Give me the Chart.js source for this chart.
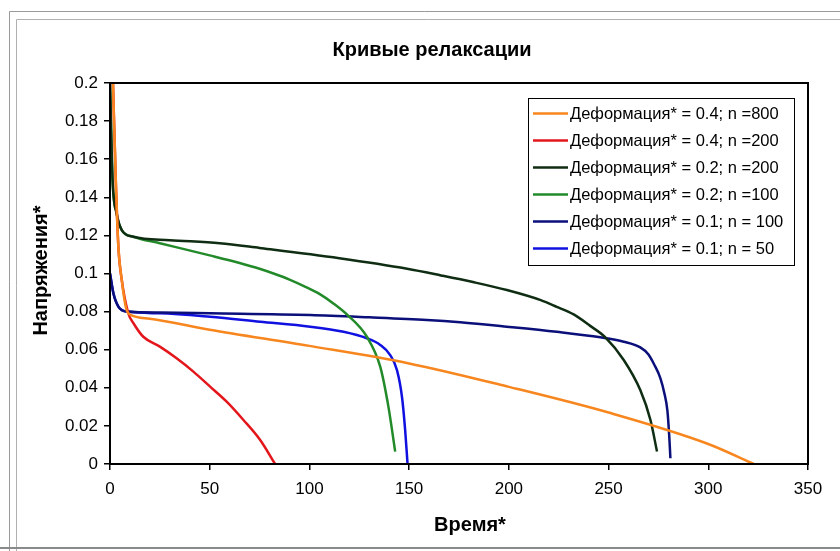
<!DOCTYPE html>
<html>
<head>
<meta charset="utf-8">
<script src="https://cdn.jsdelivr.net/npm/chart.js@4"></script>
<style>
html,body{margin:0;padding:0;background:#fff;}
#wrap{position:relative;width:840px;height:551px;}
</style>
</head>
<body>
<div id="wrap"><canvas id="c" width="840" height="551"></canvas></div>
<script>
// ---- data ----
const chartTitle = "Кривые релаксации";
const xTitle = "Время*";
const yTitle = "Напряжения*";
const seriesLabels = [
  "Деформация* = 0.4; n =800",
  "Деформация* = 0.4; n =200",
  "Деформация* = 0.2; n =200",
  "Деформация* = 0.2; n =100",
  "Деформация* = 0.1; n = 100",
  "Деформация* = 0.1; n = 50"
];
const seriesColors = ["#F7861E", "#E3161B", "#0F2D12", "#238A2A", "#0B0F7A", "#1010E0"];

const e04n800X = [1.5, 2.9, 4.2, 5.9, 8, 10, 20, 50, 100, 150, 200, 250, 300, 322.8];
const e04n800Y = [0.2, 0.149, 0.114, 0.0966, 0.082, 0.0785, 0.0763, 0.0705, 0.0620, 0.0528, 0.0405, 0.0270, 0.0105, 0];

const e04n200X = [1.5, 2.9, 4.2, 5.9, 9.2, 12, 16.7, 25, 33.4, 41.8, 50.2, 58.5, 66.9, 75.3, 82.8];
const e04n200Y = [0.2, 0.149, 0.114, 0.0966, 0.079, 0.0735, 0.0668, 0.0616, 0.0555, 0.0485, 0.0406, 0.0327, 0.0231, 0.0126, 0];

const e02n200X = [0, 1.3, 3.3, 5.9, 11.7, 30, 55, 75, 115, 149, 166, 182, 199, 216, 224, 232.5, 240.8, 248.4, 257.6, 265.9, 271, 274.3];
const e02n200Y = [0.2, 0.149, 0.1316, 0.1228, 0.1193, 0.1175, 0.1159, 0.1134, 0.1080, 0.1025, 0.0990, 0.0955, 0.0913, 0.0860, 0.0825, 0.0785, 0.0725, 0.0665, 0.0546, 0.0388, 0.0231, 0.0065];

const e02n100X = [0, 1.3, 3.3, 5.9, 11.7, 25, 50, 65, 75, 82, 90, 98, 105, 112, 119, 128.8, 135.5, 139.6, 143];
const e02n100Y = [0.2, 0.149, 0.1316, 0.1228, 0.1193, 0.1159, 0.1095, 0.1055, 0.1025, 0.1000, 0.0968, 0.0930, 0.0893, 0.0843, 0.0783, 0.0668, 0.0511, 0.0301, 0.0065];

const e01n100X = [0, 1.7, 4.2, 8.4, 25, 50.2, 100.4, 130, 158.9, 175.6, 199, 224, 245.9, 257.6, 265.9, 270, 273, 276, 278, 279.5, 280.4, 281];
const e01n100Y = [0.1, 0.0896, 0.0826, 0.080, 0.0795, 0.0791, 0.0782, 0.077, 0.0756, 0.0744, 0.0721, 0.0694, 0.0665, 0.0642, 0.0612, 0.0575, 0.052, 0.045, 0.037, 0.028, 0.015, 0.003];

const e01n50X = [0, 1.7, 4.2, 8.4, 25.1, 50.2, 75.3, 100.4, 117.1, 128.8, 135.5, 140.5, 143.9, 146.4, 148, 149.2];
const e01n50Y = [0.1, 0.0896, 0.0826, 0.080, 0.0791, 0.0773, 0.0747, 0.0721, 0.0694, 0.066, 0.0625, 0.0572, 0.0493, 0.0353, 0.0178, 0];

const xTicks = [0, 50, 100, 150, 200, 250, 300, 350];
const yTicks = [0, 0.02, 0.04, 0.06, 0.08, 0.1, 0.12, 0.14, 0.16, 0.18, 0.2];

// ---- build datasets ----
const seriesX = [e04n800X, e04n200X, e02n200X, e02n100X, e01n100X, e01n50X];
const seriesY = [e04n800Y, e04n200Y, e02n200Y, e02n100Y, e01n100Y, e01n50Y];
const toPts = (xs, ys) => xs.map((x, i) => ({x: x, y: ys[i]}));
const datasets = seriesLabels.map((lab, i) => ({
  label: lab,
  data: toPts(seriesX[i], seriesY[i]),
  borderColor: seriesColors[i],
  backgroundColor: seriesColors[i],
  borderWidth: 2.5,
  pointRadius: 0,
  fill: false,
  cubicInterpolationMode: 'monotone'
}));
const FONT = "Arial, 'Liberation Sans', sans-serif";

const framePlugin = {
  id: 'frame',
  beforeDraw(chart) {
    const ctx = chart.ctx;
    ctx.save();
    ctx.fillStyle = '#fff';
    ctx.fillRect(0, 0, chart.width, chart.height);
    ctx.strokeStyle = '#9a9a9a';
    ctx.lineWidth = 1;
    ctx.beginPath();
    ctx.moveTo(9.5, 551); ctx.lineTo(9.5, 11.5); ctx.lineTo(840, 11.5);
    ctx.stroke();
    ctx.strokeStyle = '#b0b0b0';
    ctx.beginPath();
    ctx.moveTo(16.5, 551); ctx.lineTo(16.5, 19.5); ctx.lineTo(840, 19.5);
    ctx.stroke();
    ctx.strokeStyle = '#8a8a8a';
    ctx.lineWidth = 2;
    ctx.beginPath();
    ctx.moveTo(0, 548); ctx.lineTo(840, 548);
    ctx.stroke();
    ctx.restore();
  },
  afterDatasetsDraw(chart) {
    const a = chart.chartArea;
    const ctx = chart.ctx;
    ctx.save();
    ctx.strokeStyle = '#000';
    ctx.lineWidth = 2;
    ctx.strokeRect(a.left, a.top, a.right - a.left, a.bottom - a.top);
    ctx.restore();
  }
};

const titlesPlugin = {
  id: 'titles',
  afterDraw(chart) {
    const ctx = chart.ctx;
    const a = chart.chartArea;
    ctx.save();
    ctx.fillStyle = '#000';
    ctx.textAlign = 'center';
    ctx.textBaseline = 'middle';
    ctx.font = "bold 20px " + FONT;
    ctx.fillText(chartTitle, 432, 50);
    ctx.font = "bold 20px " + FONT;
    ctx.fillText(xTitle, 470, 525);
    ctx.translate(41, (a.top + a.bottom) / 2 - 3);
    ctx.rotate(-Math.PI / 2);
    ctx.fillText(yTitle, 0, 0);
    ctx.restore();
  }
};

const legendPlugin = {
  id: 'boxLegend',
  afterDraw(chart) {
    const ctx = chart.ctx;
    const x0 = 528, y0 = 98, w = 266, h = 167;
    ctx.save();
    ctx.fillStyle = '#fff';
    ctx.fillRect(x0, y0, w, h);
    ctx.strokeStyle = '#000';
    ctx.lineWidth = 1;
    ctx.strokeRect(x0 + 0.5, y0 + 0.5, w, h);
    ctx.font = "16.5px " + FONT;
    ctx.textBaseline = 'middle';
    ctx.fillStyle = '#000';
    chart.data.datasets.forEach((ds, i) => {
      const y = 113.5 + i * 27;
      ctx.strokeStyle = ds.borderColor;
      ctx.lineWidth = 2.5;
      ctx.beginPath();
      ctx.moveTo(533, y); ctx.lineTo(568, y);
      ctx.stroke();
      ctx.fillText(ds.label, 570, y + 1);
    });
    ctx.restore();
  }
};

new Chart(document.getElementById('c'), {
  type: 'line',
  data: { datasets: datasets },
  options: {
    responsive: false,
    animation: false,
    devicePixelRatio: 1,
    layout: { padding: { top: 83, left: 20, right: 32, bottom: 7 } },
    plugins: {
      legend: { display: false },
      tooltip: { enabled: false },
      title: { display: false }
    },
    scales: {
      x: {
        type: 'linear',
        min: 0, max: 350,
        afterBuildTicks: s => { s.ticks = xTicks.map(v => ({value: v})); },
        afterFit: s => { s.height = 80; },
        ticks: { color: '#000', font: { family: FONT, size: 17 }, padding: 9, maxRotation: 0 },
        grid: { drawOnChartArea: false, drawTicks: true, tickLength: 6, color: '#000', lineWidth: 1.5 },
        border: { display: true, color: '#000', width: 2 },
        title: { display: false }
      },
      y: {
        type: 'linear',
        min: 0, max: 0.2,
        afterBuildTicks: s => { s.ticks = yTicks.map(v => ({value: v})); },
        afterFit: s => { s.width = 90; },
        ticks: { color: '#000', font: { family: FONT, size: 17 }, padding: 6, callback: v => String(+v.toFixed(2)) },
        grid: { drawOnChartArea: false, drawTicks: true, tickLength: 6, color: '#000', lineWidth: 1.5 },
        border: { display: true, color: '#000', width: 2 },
        title: { display: false }
      }
    }
  },
  plugins: [framePlugin, legendPlugin, titlesPlugin]
});
</script>
</body>
</html>
